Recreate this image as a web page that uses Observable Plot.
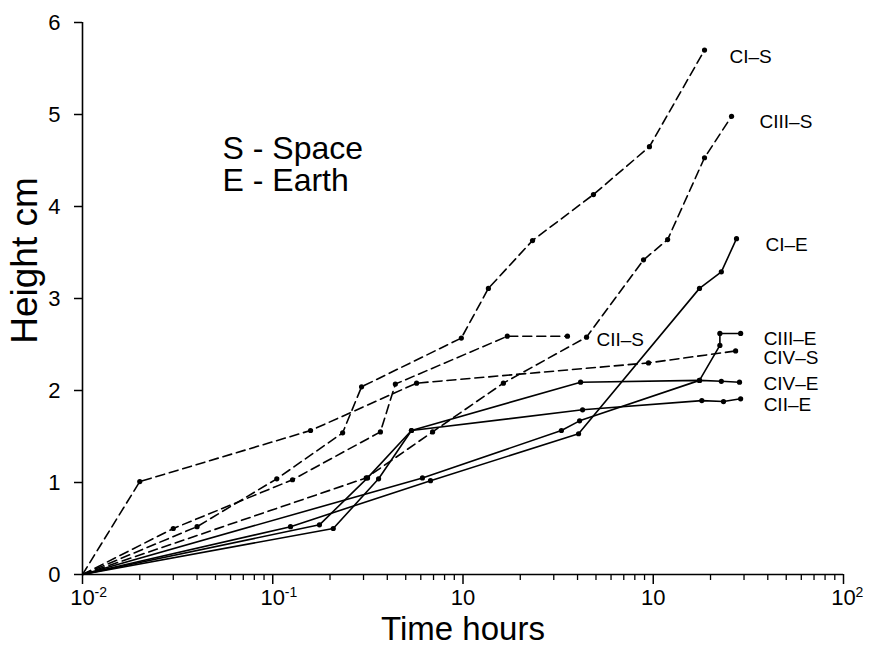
<!DOCTYPE html>
<html><head><meta charset="utf-8">
<script src="https://cdn.jsdelivr.net/npm/d3@7"></script>
<script src="https://cdn.jsdelivr.net/npm/@observablehq/plot@0.6"></script>
<style>
html,body{margin:0;padding:0;background:#fff;}
#chart svg{display:block;font-family:"Liberation Sans",Arial,sans-serif;}
</style></head><body><div id="chart"></div>
<script>
// ---- data (time in hours, height in cm) ----
const seriesNames = ["CI–S","CII–S","CIII–S","CIV–S","CI–E","CII–E","CIII–E","CIV–E"];

const ciS_t   = [0.01, 0.04, 0.105, 0.233, 0.293, 0.98, 1.36, 2.32, 4.85, 9.55, 18.6];
const ciS_h   = [0,    0.52, 1.04,  1.54,  2.04,  2.57, 3.11, 3.63, 4.13, 4.65, 5.70];

const ciiS_t  = [0.01, 0.03, 0.127, 0.368, 0.441, 1.71, 3.54];
const ciiS_h  = [0,    0.50, 1.03,  1.55,  2.07,  2.59, 2.59];

const ciiiS_t = [0.01, 0.31, 0.692, 1.63, 4.46, 8.89, 11.9, 18.6, 25.8];
const ciiiS_h = [0,    1.05, 1.55,  2.08, 2.58, 3.42, 3.64, 4.53, 4.98];

const civS_t  = [0.01, 0.02, 0.158, 0.57, 9.44, 27.1];
const civS_h  = [0,    1.01, 1.565, 2.08, 2.30, 2.43];

const ciE_t   = [0.01, 0.124, 0.675, 4.05, 17.5, 22.8, 27.4];
const ciE_h   = [0,    0.52,  1.02,  1.53, 3.11, 3.29, 3.65];

const ciiE_t  = [0.01, 0.208, 0.36, 0.536, 4.25, 18.0, 23.4, 28.8];
const ciiE_h  = [0,    0.50,  1.04, 1.565, 1.79, 1.89, 1.88, 1.91];

const ciiiE_t = [0.01, 0.612, 3.29,  4.10, 17.5, 22.4, 22.4, 28.8];
const ciiiE_h = [0,    1.05,  1.565, 1.67, 2.11, 2.49, 2.62, 2.62];

const civE_t  = [0.01, 0.176, 0.315, 0.536, 4.15, 17.5, 22.8, 28.4];
const civE_h  = [0,    0.54,  1.05,  1.565, 2.09, 2.11, 2.10, 2.09];

const xTickValues = [0.01, 0.1, 1, 10, 100];
const xTickBase   = ["10", "10", "10", "10", "10"];
const xTickExp    = ["-2", "-1", "", "", "2"];
const yTickValues = [0, 1, 2, 3, 4, 5, 6];
const notes = ["S - Space", "E - Earth"];

// ---- build table ----
const seriesData = [
  [ciS_t, ciS_h], [ciiS_t, ciiS_h], [ciiiS_t, ciiiS_h], [civS_t, civS_h],
  [ciE_t, ciE_h], [ciiE_t, ciiE_h], [ciiiE_t, ciiiE_h], [civE_t, civE_h]
];
const rows = [];
seriesNames.forEach((name, k) => {
  const [t, h] = seriesData[k];
  t.forEach((v, i) => rows.push({series: name, t: v, h: h[i], space: name.endsWith("S")}));
});
const dashedRows = rows.filter(d => d.space);
const solidRows = rows.filter(d => !d.space);
const dotRows = rows.filter(d => d.t > 0.01);
const ends = seriesNames.map(name => {
  const r = rows.filter(d => d.series === name);
  return r[r.length - 1];
});
// label placement offsets (px) relative to each series' last point
const labelOffsets = {
  "CI–S": [25, 7], "CII–S": [29, 4], "CIII–S": [28, 6], "CIV–S": [28, 7],
  "CI–E": [29, 6], "CII–E": [23, 6], "CIII–E": [23, 5], "CIV–E": [24, 2]
};
const minorTicks = [];
for (let e = -2; e < 2; e++) for (let m = 2; m <= 9; m++) minorTicks.push(m * Math.pow(10, e));

const labelMarks = ends.map(d => Plot.text([d], {
  x: "t", y: "h", text: "series", textAnchor: "start",
  dx: labelOffsets[d.series][0], dy: labelOffsets[d.series][1],
  fontSize: 19, fill: "black"
}));

const chart = Plot.plot({
  width: 871, height: 647,
  marginLeft: 82, marginRight: 28, marginTop: 22, marginBottom: 73,
  style: {fontFamily: "Liberation Sans, Arial, sans-serif", color: "black", background: "white", overflow: "visible"},
  x: {type: "log", domain: [0.01, 100], axis: null},
  y: {domain: [0, 6], axis: null},
  marks: [
    Plot.axisX({ticks: minorTicks, tickSize: 6, tickFormat: () => "", label: null, strokeWidth: 1.3}),
    Plot.axisX({ticks: xTickValues, tickSize: 10, tickFormat: () => "", label: null, strokeWidth: 1.5}),
    Plot.axisY({ticks: yTickValues, tickSize: 8, tickPadding: 14, fontSize: 22, label: null, strokeWidth: 1.5, tickFormat: d => String(d)}),
    Plot.ruleY([0], {stroke: "black", strokeWidth: 1.6}),
    Plot.ruleX([0.01], {stroke: "black", strokeWidth: 1.6}),
    Plot.text(xTickValues, {x: d => d, text: (d, i) => xTickBase[i], frameAnchor: "bottom",
      dy: 30, dx: 0, fontSize: 22, fill: "black", textAnchor: "middle"}),
    Plot.text(xTickValues.filter((d, i) => xTickExp[i]), {x: d => d,
      text: d => xTickExp[xTickValues.indexOf(d)], frameAnchor: "bottom",
      dy: 22, dx: 12, fontSize: 14, fill: "black", textAnchor: "start"}),
    Plot.line(dashedRows, {x: "t", y: "h", z: "series", stroke: "black", strokeWidth: 1.6, strokeDasharray: "9,5"}),
    Plot.line(solidRows, {x: "t", y: "h", z: "series", stroke: "black", strokeWidth: 1.6}),
    Plot.dot(dotRows, {x: "t", y: "h", r: 2.6, fill: "black"}),
    ...labelMarks,
    Plot.text([notes.join("\n")], {frameAnchor: "top-left", dx: 140, dy: 113, lineAnchor: "top",
      lineHeight: 1.02, fontSize: 32, fill: "black", textAnchor: "start"}),
    Plot.text(["Time hours"], {frameAnchor: "bottom", dy: 65, fontSize: 33, fill: "black", textAnchor: "middle"}),
    Plot.text(["Height cm"], {frameAnchor: "left", dx: -57, dy: -38, rotate: -90, fontSize: 37, fill: "black", textAnchor: "middle"})
  ]
});
document.getElementById("chart").appendChild(chart);
</script></body></html>
